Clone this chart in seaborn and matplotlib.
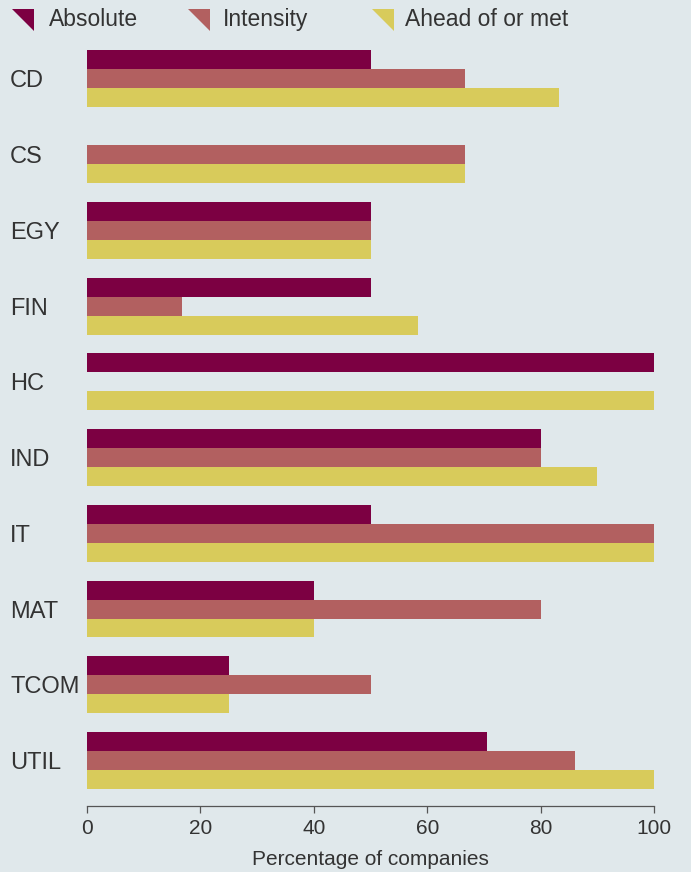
import numpy as np
import pandas as pd
import matplotlib
matplotlib.use("Agg")
import matplotlib.pyplot as plt
import seaborn as sns
from matplotlib.lines import Line2D
from matplotlib.path import Path

# data
sectors = ["CD", "CS", "EGY", "FIN", "HC", "IND", "IT", "MAT", "TCOM", "UTIL"]
absolute = [50, 0, 50, 50, 100, 80, 50, 40, 25, 70.6]
intensity = [66.7, 66.7, 50, 16.7, 0, 80, 100, 80, 50, 86]
ahead = [83.3, 66.7, 50, 58.3, 100, 90, 100, 40, 25, 100]
series = ["Absolute", "Intensity", "Ahead of or met"]

BG = "#e0e8eb"
TXT = "#333333"
COLORS = ["#7c0042", "#b26060", "#d8cb5b"]
W, H = 691, 872

df = pd.DataFrame({"sector": sectors, series[0]: absolute,
                   series[1]: intensity, series[2]: ahead})
long = df.melt(id_vars="sector", var_name="type", value_name="pct")

sns.set_style("white")
plt.rcParams["font.family"] = ["Liberation Sans", "DejaVu Sans"]

fig = plt.figure(figsize=(W / 100, H / 100), dpi=100, facecolor=BG)
ax = fig.add_axes([87 / W, 1 - 806 / H, 567 / W, 765 / H])
ax.set_facecolor(BG)

sns.barplot(data=long, y="sector", x="pct", hue="type", order=sectors,
            hue_order=series, palette=COLORS, width=0.75, orient="h",
            saturation=1, ax=ax, legend=False, linewidth=0)

ax.set_xlim(0, 100)
ax.set_ylim(9.6, -0.5)
ax.set_xticks(range(0, 101, 20))
for s in ["top", "right", "left"]:
    ax.spines[s].set_visible(False)
ax.spines["bottom"].set_color("#555555")
ax.spines["bottom"].set_linewidth(0.9)
ax.tick_params(axis="x", bottom=True, direction="out", length=5, width=0.9,
               color="#555555", labelsize=15, labelcolor=TXT, pad=4)
ax.tick_params(axis="y", left=False, length=0, labelsize=17, labelcolor=TXT, pad=55.4)
for lab in ax.get_yticklabels():
    lab.set_horizontalalignment("left")
ax.set_ylabel("")
ax.set_xlabel("Percentage of companies", fontsize=15, color=TXT, labelpad=9)

# legend row at the top: right-triangle swatches
tri = Path([(-1, 1), (1, 1), (1, -1), (-1, 1)],
           [Path.MOVETO, Path.LINETO, Path.LINETO, Path.CLOSEPOLY])
marker_x = [23, 199, 383]
text_x = [49, 223, 405]
for mx, tx, lab, c in zip(marker_x, text_x, series, COLORS):
    fig.add_artist(Line2D([mx / W], [1 - 20.5 / H], transform=fig.transFigure,
                          linestyle="none", marker=tri, markersize=16.5,
                          markerfacecolor=c, markeredgewidth=0))
    fig.text(tx / W, 1 - 26 / H, lab, fontsize=16.5, color=TXT,
             ha="left", va="baseline")

fig.savefig("out.png", dpi=100, facecolor=BG)
